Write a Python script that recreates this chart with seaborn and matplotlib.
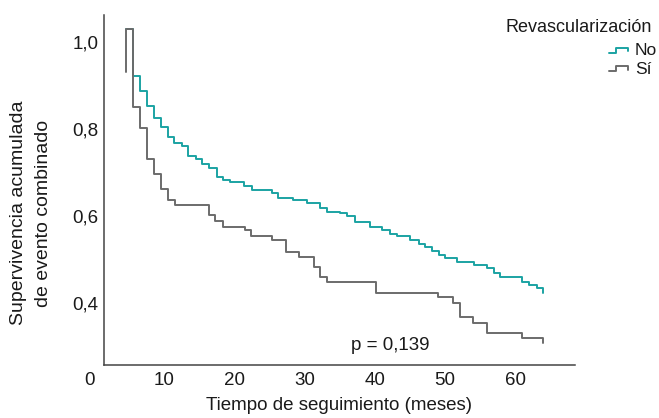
import pandas as pd
import numpy as np
import matplotlib.pyplot as plt
import seaborn as sns
from matplotlib.lines import Line2D
from matplotlib.legend_handler import HandlerBase
import matplotlib.transforms as mtransforms

# Kaplan-Meier step points (months, cumulative survival)
no_t = [4.53, 5.57, 6.53, 7.53, 8.57, 9.52, 10.56, 11.38, 12.47, 13.42,
        14.47, 15.41, 16.41, 17.47, 18.41, 19.36, 21.36, 22.46, 25.31, 26.20,
        28.34, 30.30, 32.19, 33.15, 35.04, 36.00, 37.18, 39.33, 40.99, 42.18,
        43.13, 45.03, 46.21, 47.16, 48.12, 49.06, 50.01, 51.68, 54.05, 55.96,
        56.90, 57.86, 60.95, 61.89, 63.09, 63.94]
no_s = [1.029, 0.922, 0.887, 0.852, 0.824, 0.803, 0.780, 0.768, 0.759, 0.737,
        0.730, 0.719, 0.710, 0.690, 0.682, 0.677, 0.669, 0.659, 0.651, 0.641,
        0.636, 0.629, 0.617, 0.609, 0.607, 0.599, 0.586, 0.575, 0.566, 0.558,
        0.553, 0.544, 0.535, 0.529, 0.520, 0.510, 0.502, 0.494, 0.487, 0.479,
        0.469, 0.460, 0.448, 0.441, 0.433, 0.422]

si_t = [4.53, 4.53, 5.57, 6.53, 7.57, 8.57, 9.52, 10.56, 11.52, 16.37,
        17.22, 18.41, 21.50, 22.36, 25.39, 27.35, 29.24, 31.27, 32.24, 33.19,
        40.18, 48.92, 51.11, 52.05, 53.96, 55.96, 60.95, 63.94]
si_s = [0.931, 1.029, 0.849, 0.802, 0.730, 0.695, 0.661, 0.636, 0.625, 0.602,
        0.588, 0.575, 0.567, 0.553, 0.543, 0.517, 0.506, 0.483, 0.460, 0.448,
        0.423, 0.414, 0.400, 0.368, 0.354, 0.331, 0.318, 0.308]

groups = ['No', 'Sí']
colors = {'No': '#1ba3a3', 'Sí': '#6b6b6b'}
y_ticks = [0.4, 0.6, 0.8, 1.0]
y_labels = ['0,4', '0,6', '0,8', '1,0']
x_ticks = [10, 20, 30, 40, 50, 60]

df = pd.concat([
    pd.DataFrame({'t': no_t, 's': no_s, 'Revascularización': 'No'}),
    pd.DataFrame({'t': si_t, 's': si_s, 'Revascularización': 'Sí'}),
], ignore_index=True)

sns.set_theme(style='white')
plt.rcParams['font.family'] = ['Liberation Sans', 'DejaVu Sans']
txt = '#1a1a1a'
fs = 13.5

fig = plt.figure(figsize=(6.59, 4.18), dpi=100)
ax = fig.add_axes([104 / 659, 53 / 418, 471 / 659, 350 / 418])

sns.lineplot(data=df, x='t', y='s', hue='Revascularización', hue_order=groups,
             palette=colors, estimator=None, sort=False, drawstyle='steps-post',
             linewidth=1.4, legend=False, ax=ax)

ax.set_xlim(1.4, 68.5)
ax.set_ylim(0.257, 1.061)
ax.set_xticks(x_ticks)
ax.set_xticklabels([str(v) for v in x_ticks])
ax.set_yticks(y_ticks)
ax.set_yticklabels(y_labels)
ax.tick_params(axis='y', length=0, pad=4, labelsize=fs, colors=txt)
ax.tick_params(axis='x', length=0, pad=5, labelsize=fs, colors=txt)
for side in ['top', 'right']:
    ax.spines[side].set_visible(False)
for side in ['left', 'bottom']:
    ax.spines[side].set_color('#444444')
    ax.spines[side].set_linewidth(1.1)

# the lone "0" left of the axis origin
trans = mtransforms.blended_transform_factory(ax.transData, ax.transAxes)
ax.annotate('0', xy=(-0.6, 0), xycoords=trans, xytext=(0, -5),
            textcoords='offset points', ha='center', va='top',
            fontsize=fs, color=txt, annotation_clip=False)

ax.set_xlabel('Tiempo de seguimiento (meses)', fontsize=fs, color=txt, labelpad=6)
ax.set_ylabel('')
fig.text(31 / 659, 1 - 213 / 418, 'Supervivencia acumulada\nde evento combinado',
         rotation=90, ha='center', va='center', multialignment='center',
         fontsize=14, color=txt, linespacing=1.55)

ax.text(42.2, 0.291, 'p = 0,139', ha='center', va='baseline', fontsize=fs, color=txt)


class HandlerStep(HandlerBase):
    def create_artists(self, legend, orig_handle, xdescent, ydescent,
                       width, height, fontsize, trans):
        xs = np.array([0, 0.35, 0.35, 0.9, 0.9]) * width - xdescent
        ys = np.array([0.2, 0.2, 0.6, 0.6, 0.35]) * height - ydescent
        line = Line2D(xs, ys, color=orig_handle.get_color(), linewidth=1.4,
                      transform=trans)
        return [line]


# legend title as its own text, entries below it
fig.text(652 / 659, 1 - 31.7 / 418, 'Revascularización', ha='right', va='baseline',
         fontsize=13, color=txt)
handles = [Line2D([], [], color=colors[g]) for g in groups]
leg = fig.legend(handles, groups, loc='upper left',
                 bbox_to_anchor=(609 / 659, 1 - 43 / 418), frameon=False,
                 fontsize=12.5, handlelength=1.2, handletextpad=0.3,
                 labelspacing=0.2, borderpad=0, borderaxespad=0,
                 handler_map={Line2D: HandlerStep()})
for t in leg.get_texts():
    t.set_color(txt)

fig.savefig('out.png', dpi=100)
